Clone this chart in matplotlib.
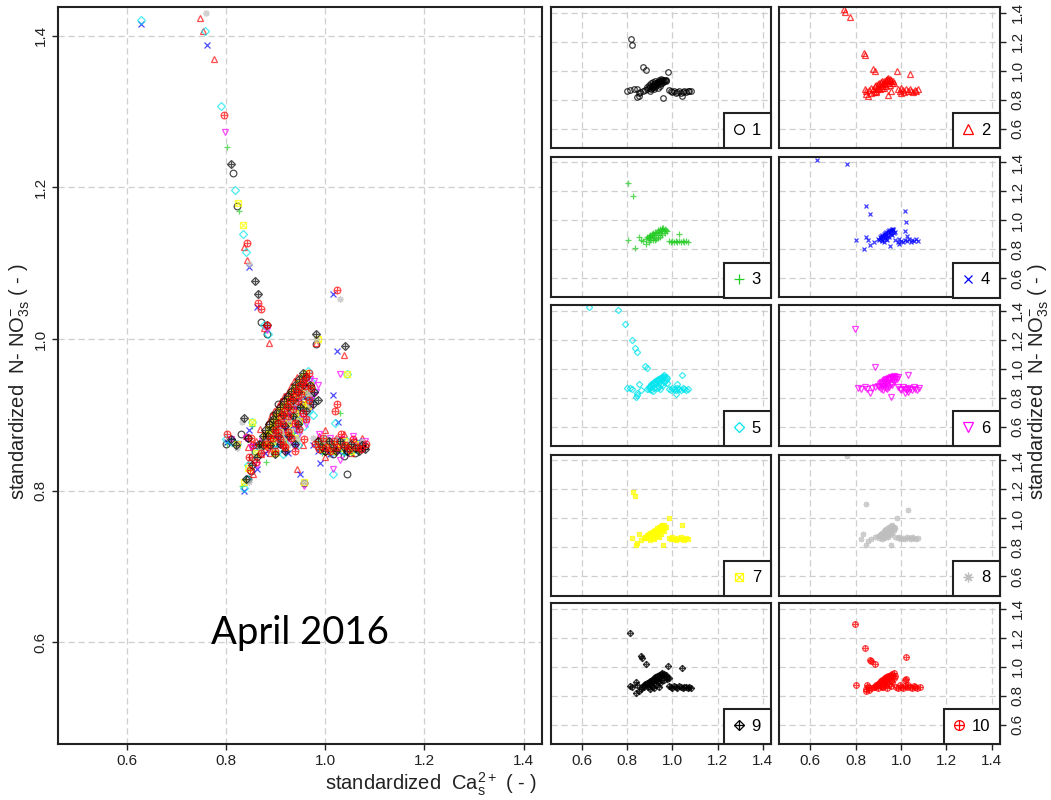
import matplotlib
matplotlib.use("Agg")
import matplotlib.pyplot as plt
from matplotlib.lines import Line2D
from matplotlib.legend_handler import HandlerTuple

plt.rcParams['font.family'] = ['Liberation Sans', 'DejaVu Sans']
plt.rcParams['mathtext.fontset'] = 'custom'
plt.rcParams['mathtext.rm'] = 'Liberation Sans'

# ---------------- data (standardized Ca, standardized N-NO3) ----------------
s1 = [(0.815,1.219),(0.822,1.175),(0.871,1.023),(0.884,1.007),(0.982,0.993),
      (0.800,0.861),(0.812,0.866),(0.830,0.875),(0.845,0.870),(0.852,0.845),(0.844,0.815),(0.850,0.826),(0.858,0.852),(0.870,0.862),
      (0.880,0.868),(0.889,0.874),(0.896,0.882),(0.902,0.890),(0.908,0.896),(0.915,0.901),(0.920,0.906),(0.925,0.912),(0.930,0.916),
      (0.935,0.920),(0.940,0.923),(0.945,0.926),(0.950,0.929),(0.955,0.932),(0.960,0.934),(0.966,0.936),(0.972,0.937),(0.912,0.886),
      (0.928,0.897),(0.943,0.907),(0.958,0.918),(0.900,0.860),(0.918,0.870),(0.936,0.880),(0.924,0.925),(0.905,0.915),
      (0.895,0.900),(0.905,0.870),(0.915,0.918),(0.925,0.885),(0.935,0.905),(0.945,0.892),(0.952,0.915),(0.962,0.925),
      (0.970,0.928),(0.888,0.888),(0.920,0.890),(0.940,0.935),(0.950,0.940),(0.910,0.878),
      (0.958,0.810),(0.993,0.858),(1.000,0.852),(1.008,0.861),(1.015,0.848),(1.022,0.855),(1.030,0.860),(1.038,0.846),(1.045,0.853),
      (1.052,0.858),(1.060,0.850),(1.068,0.856),(1.075,0.861),(1.081,0.859),(1.044,0.822),(0.985,0.866)]
s2 = [(0.749,1.423),(0.755,1.406),(0.776,1.370),(0.837,1.122),(0.843,1.104),(0.876,1.014),(0.887,0.995),(0.982,0.995),(1.038,0.979),
      (0.840,0.872),(0.845,0.858),(0.854,0.822),(0.848,0.840),(0.860,0.865),(0.868,0.882),(0.878,0.875),(0.885,0.890),(0.892,0.898),
      (0.898,0.905),(0.905,0.912),(0.912,0.918),(0.918,0.925),(0.925,0.930),(0.932,0.938),(0.938,0.945),(0.944,0.950),(0.950,0.940),
      (0.958,0.932),(0.965,0.925),(0.970,0.915),(0.900,0.880),(0.915,0.892),(0.930,0.905),(0.945,0.915),(0.890,0.860),(0.908,0.870),
      (0.925,0.878),(0.943,0.829),(0.955,0.860),
      (0.880,0.855),(0.895,0.875),(0.905,0.895),(0.915,0.905),(0.925,0.915),(0.935,0.925),(0.942,0.935),(0.950,0.925),
      (0.960,0.915),(0.918,0.882),(0.935,0.890),(0.950,0.898),(0.890,0.850),(0.870,0.848),
      (0.987,0.872),(0.994,0.858),(1.000,0.880),(1.008,0.865),(1.015,0.852),(1.022,0.870),(1.030,0.858),(1.038,0.875),(1.045,0.862),
      (1.052,0.850),(1.060,0.866),(1.068,0.858),(1.075,0.870),(1.000,0.845)]
s3 = [(0.803,1.254),(0.827,1.169),(0.803,0.861),(0.833,0.806),(0.852,0.885),(0.860,0.860),(0.870,0.855),(0.881,0.838),
      (0.881,0.870),(0.888,0.880),(0.895,0.888),(0.902,0.895),(0.908,0.902),(0.915,0.908),(0.922,0.915),(0.930,0.920),(0.938,0.928),
      (0.945,0.935),(0.952,0.942),(0.960,0.948),(0.966,0.940),(0.972,0.930),(0.978,0.922),(0.905,0.875),(0.920,0.885),(0.935,0.898),
      (0.950,0.910),(0.912,0.862),(0.928,0.872),(0.945,0.885),(0.895,0.850),
      (0.890,0.875),(0.900,0.882),(0.910,0.892),(0.918,0.900),(0.928,0.908),(0.940,0.915),(0.948,0.925),(0.956,0.932),
      (0.962,0.925),(0.925,0.862),(0.938,0.878),(0.952,0.895),(0.968,0.912),(0.900,0.865),
      (0.985,0.855),(0.993,0.850),(1.000,0.857),(1.008,0.848),(1.015,0.855),(1.022,0.850),(1.030,0.857),(1.038,0.848),(1.045,0.855),
      (1.052,0.850),(1.060,0.856),(1.067,0.852),(1.030,0.903)]
s4 = [(0.629,1.416),(0.763,1.388),(0.847,1.095),(0.862,1.042),(1.016,1.060),(1.024,0.984),(1.016,0.926),(1.026,0.891),
      (0.803,0.864),(0.847,0.880),(0.862,0.829),(0.837,0.800),(0.950,0.822),(0.855,0.860),(0.880,0.850),
      (0.900,0.870),(0.906,0.880),(0.912,0.888),(0.918,0.895),(0.924,0.902),(0.930,0.910),(0.936,0.916),(0.942,0.922),(0.948,0.928),
      (0.954,0.934),(0.960,0.938),(0.966,0.930),(0.972,0.920),(0.915,0.865),(0.930,0.878),(0.945,0.890),(0.958,0.905),(0.925,0.850),
      (0.940,0.862),
      (0.905,0.862),(0.912,0.875),(0.920,0.882),(0.928,0.892),(0.935,0.900),(0.942,0.908),(0.950,0.915),(0.958,0.925),
      (0.965,0.935),(0.935,0.868),(0.948,0.880),(0.962,0.895),(0.970,0.910),(0.918,0.855),
      (0.975,0.860),(0.985,0.852),(0.993,0.866),(1.000,0.856),(1.010,0.848),(1.018,0.862),(1.027,0.853),(1.035,0.866),(1.043,0.850),
      (1.050,0.860),(1.058,0.854),(1.066,0.866),(1.075,0.857),(0.990,0.837)]
s5 = [(0.630,1.421),(0.759,1.406),(0.790,1.307),(0.819,1.196),(0.834,1.139),(0.841,1.115),(0.877,1.018),(0.886,1.007),(1.044,0.954),
      (0.800,0.868),(0.812,0.864),(0.822,0.861),(0.852,0.891),(0.844,0.834),(0.837,0.804),(0.842,0.815),(0.860,0.850),
      (0.889,0.860),(0.895,0.872),(0.900,0.882),(0.906,0.890),(0.912,0.898),(0.918,0.905),(0.925,0.912),(0.932,0.920),(0.938,0.928),
      (0.945,0.935),(0.952,0.942),(0.958,0.950),(0.965,0.958),(0.972,0.945),(0.978,0.932),(0.905,0.855),(0.920,0.868),(0.935,0.880),
      (0.950,0.895),(0.965,0.905),(0.915,0.848),(0.945,0.860),
      (0.895,0.862),(0.902,0.875),(0.910,0.885),(0.918,0.892),(0.928,0.900),(0.938,0.912),(0.948,0.922),(0.955,0.932),
      (0.962,0.940),(0.930,0.865),(0.942,0.875),(0.958,0.885),(0.970,0.920),(0.975,0.900),
      (0.985,0.862),(0.993,0.855),(1.000,0.868),(1.008,0.858),(1.015,0.852),(1.022,0.865),(1.030,0.858),(1.038,0.852),(1.045,0.866),
      (1.052,0.860),(1.060,0.855),(1.067,0.862),(1.015,0.822),(1.020,0.890)]
s6 = [(0.799,1.273),(0.884,1.012),(1.031,0.954),(0.810,0.868),(0.825,0.862),(0.840,0.870),(0.850,0.858),(0.862,0.834),(0.872,0.865),
      (0.885,0.872),(0.900,0.880),(0.906,0.890),(0.912,0.898),(0.918,0.905),(0.924,0.912),(0.930,0.918),(0.936,0.925),(0.942,0.930),
      (0.948,0.935),(0.955,0.940),(0.962,0.945),(0.970,0.948),(0.978,0.945),(0.986,0.940),(0.910,0.862),(0.925,0.870),(0.940,0.882),
      (0.955,0.895),(0.970,0.910),(0.920,0.852),(0.940,0.858),(0.957,0.806),
      (0.905,0.870),(0.915,0.882),(0.922,0.892),(0.930,0.900),(0.938,0.910),(0.945,0.918),(0.952,0.928),(0.960,0.935),
      (0.968,0.938),(0.932,0.865),(0.948,0.875),(0.962,0.888),(0.975,0.925),(0.982,0.930),
      (0.987,0.875),(0.995,0.862),(1.002,0.855),(1.010,0.870),(1.018,0.858),(1.025,0.852),(1.032,0.868),(1.040,0.860),(1.048,0.855),
      (1.056,0.872),(1.064,0.860),(1.072,0.855),(1.080,0.866),(1.016,0.829),(1.030,0.840)]
s7 = [(0.825,1.180),(0.834,1.150),(0.985,1.000),(1.044,0.954),(0.822,0.861),(0.852,0.891),(0.837,0.811),(0.845,0.830),(0.860,0.850),
      (0.958,0.811),(0.874,0.860),(0.880,0.872),(0.888,0.882),(0.895,0.890),(0.902,0.898),(0.910,0.905),(0.918,0.912),(0.925,0.920),
      (0.932,0.928),(0.940,0.935),(0.948,0.942),(0.955,0.950),(0.962,0.955),(0.970,0.940),(0.895,0.865),(0.910,0.878),(0.925,0.890),
      (0.940,0.902),(0.955,0.915),(0.900,0.850),(0.920,0.858),(0.940,0.870),
      (0.882,0.862),(0.890,0.875),(0.900,0.885),(0.908,0.892),(0.918,0.900),(0.928,0.910),(0.936,0.920),(0.945,0.928),
      (0.952,0.935),(0.915,0.865),(0.930,0.878),(0.948,0.892),(0.962,0.930),(0.965,0.912),
      (0.985,0.862),(0.993,0.855),(1.000,0.866),(1.008,0.858),(1.015,0.852),(1.022,0.862),(1.030,0.856),(1.038,0.866),(1.045,0.858),
      (1.052,0.852),(1.060,0.862),(1.067,0.856)]
s8 = [(0.760,1.430),(0.847,1.099),(1.031,1.053),(0.982,1.000),(0.832,0.891),(0.822,0.857),(0.854,0.845),(0.847,0.811),(0.884,0.868),
      (0.957,0.811),(0.870,0.855),(0.900,0.875),(0.906,0.885),(0.912,0.892),(0.918,0.900),(0.924,0.908),(0.930,0.915),(0.936,0.922),
      (0.942,0.930),(0.948,0.938),(0.955,0.945),(0.962,0.950),(0.968,0.940),(0.972,0.930),(0.915,0.870),(0.930,0.880),(0.945,0.892),
      (0.958,0.905),(0.925,0.860),(0.945,0.868),
      (0.905,0.865),(0.912,0.878),(0.920,0.888),(0.928,0.895),(0.936,0.905),(0.944,0.915),(0.952,0.925),(0.960,0.935),
      (0.965,0.928),(0.935,0.870),(0.950,0.880),(0.962,0.895),(0.968,0.915),(0.918,0.858),
      (0.975,0.870),(0.985,0.860),(0.993,0.868),(1.000,0.855),(1.010,0.865),(1.018,0.858),(1.027,0.868),(1.035,0.860),(1.043,0.855),
      (1.050,0.866),(1.058,0.860),(1.066,0.856),(1.075,0.865)]
s9 = [(0.810,1.231),(0.859,1.076),(0.864,1.060),(0.884,1.018),(0.982,1.007),(1.041,0.991),(0.810,0.868),(0.837,0.896),(0.852,0.834),
      (0.820,0.860),(0.845,0.870),(0.862,0.845),(0.840,0.815),
      (0.867,0.862),(0.874,0.872),(0.880,0.880),(0.888,0.888),(0.895,0.895),(0.902,0.902),(0.910,0.910),(0.918,0.918),(0.925,0.925),
      (0.932,0.932),(0.940,0.940),(0.948,0.948),(0.955,0.955),(0.962,0.950),(0.970,0.940),(0.978,0.930),(0.985,0.920),(0.890,0.860),
      (0.905,0.872),(0.920,0.885),(0.935,0.898),(0.950,0.910),(0.900,0.848),(0.920,0.852),(0.940,0.862),
      (0.875,0.860),(0.885,0.872),(0.895,0.882),(0.905,0.890),(0.915,0.900),(0.925,0.910),(0.935,0.920),(0.945,0.930),
      (0.955,0.940),(0.910,0.862),(0.928,0.872),(0.945,0.888),(0.962,0.905),(0.975,0.915),
      (0.985,0.865),(0.993,0.858),(1.000,0.852),(1.008,0.866),(1.015,0.858),(1.022,0.852),(1.030,0.865),(1.038,0.858),(1.045,0.852),
      (1.052,0.862),(1.060,0.856),(1.068,0.852),(1.075,0.860),(1.081,0.855)]
s10 = [(0.796,1.296),(0.843,1.127),(0.865,1.048),(0.870,1.040),(0.884,1.018),(1.024,1.065),(1.024,0.915),(1.020,0.905),(0.803,0.875),
       (0.847,0.845),(0.850,0.870),(0.855,0.860),(0.848,0.828),(0.860,0.838),
       (0.870,0.850),(0.880,0.862),(0.890,0.870),(0.900,0.880),(0.906,0.890),(0.912,0.898),(0.918,0.905),(0.924,0.912),(0.930,0.918),
       (0.936,0.925),(0.942,0.932),(0.948,0.938),(0.955,0.945),(0.962,0.950),(0.968,0.955),(0.972,0.935),(0.910,0.868),(0.925,0.878),
       (0.940,0.890),(0.955,0.902),(0.957,0.868),(0.900,0.852),(0.920,0.858),(0.940,0.852),
       (0.885,0.858),(0.895,0.870),(0.905,0.878),(0.915,0.888),(0.925,0.898),(0.935,0.908),(0.945,0.918),(0.952,0.928),
       (0.960,0.938),(0.915,0.860),(0.932,0.870),(0.948,0.882),(0.962,0.895),(0.968,0.920),
       (0.979,0.862),(0.987,0.855),(0.995,0.870),(1.002,0.858),(1.010,0.852),(1.018,0.866),(1.025,0.858),(1.032,0.875),(1.040,0.860),
       (1.048,0.855),(1.056,0.868),(1.064,0.858),(1.072,0.855),(1.082,0.862)]

series = [s1, s2, s3, s4, s5, s6, s7, s8, s9, s10]
labels = ["1", "2", "3", "4", "5", "6", "7", "8", "9", "10"]
colors = ["#000000", "#FF0000", "#22CC22", "#0000FF", "#00E5EE",
          "#FF00FF", "#FFFF00", "#BEBEBE", "#000000", "#FF0000"]
ticks = [0.6, 0.8, 1.0, 1.2, 1.4]
tick_labels = ["0.6", "0.8", "1.0", "1.2", "1.4"]
XLIM = (0.462, 1.437)
YLIM = (0.466, 1.438)

# marker layers reproducing R pch 1..10
def layers(i):
    if i == 0:  return ['o']
    if i == 1:  return ['^']
    if i == 2:  return ['+']
    if i == 3:  return ['x']
    if i == 4:  return ['D']
    if i == 5:  return ['v']
    if i == 6:  return ['s', 'x']
    if i == 7:  return [(8, 2, 0)]
    if i == 8:  return ['D', '+']
    return ['o', '+']

def msize(m, ms):
    if m == 'D':
        return ms * 0.8
    if m == 's':
        return ms * 0.85
    if m == 'x':
        return ms * 0.85
    return ms

def draw(ax, i, ms, alpha=0.75):
    xs = [p[0] for p in series[i]]
    ys = [p[1] for p in series[i]]
    for m in layers(i):
        ax.plot(xs, ys, linestyle='none', marker=m, markersize=msize(m, ms),
                markerfacecolor='none', markeredgecolor=colors[i],
                markeredgewidth=0.9, alpha=alpha)

def style(ax):
    ax.set_xlim(*XLIM)
    ax.set_ylim(*YLIM)
    ax.set_xticks(ticks)
    ax.set_yticks(ticks)
    ax.grid(True, color='#cfcfcf', linestyle=(0, (5, 3)), linewidth=0.9)
    ax.set_axisbelow(True)
    for sp in ax.spines.values():
        sp.set_linewidth(1.5)
        sp.set_color('#222222')
    ax.tick_params(direction='out', length=4, width=1, colors='#222222',
                   labelsize=11, labelcolor='#222222')

fig = plt.figure(figsize=(10.51, 8.0), dpi=100)
W, H = 1051.0, 800.0

# big panel
big = fig.add_axes([58 / W, 56 / H, (542 - 58) / W, (744 - 7) / H])
style(big)
big.set_xticklabels(tick_labels)
big.set_yticklabels(tick_labels, rotation=90, va='center')
for i in range(10):
    draw(big, i, 4.8, alpha=0.7)
fig.text(300 / W, 1 - 633 / H, "April 2016", ha='center', va='center',
         fontsize=27.5, family='Lato', color='black')

# small panels
col_left = [551, 779]
col_w = [220, 221]
row_bottom = [148, 297.5, 446, 595.5, 744]
ph = 141
for i in range(10):
    r, c = divmod(i, 2)
    ax = fig.add_axes([col_left[c] / W, (H - row_bottom[r]) / H, col_w[c] / W, ph / H])
    style(ax)
    draw(ax, i, 4.0)
    if c == 1:
        ax.yaxis.tick_right()
        ax.set_yticklabels(tick_labels, rotation=90, va='center')
    else:
        ax.tick_params(axis='y', left=False, labelleft=False)
    if r == 4:
        ax.set_xticklabels(tick_labels)
    else:
        ax.tick_params(axis='x', bottom=False, labelbottom=False)
    handles = tuple(Line2D([], [], linestyle='none', marker=m,
                           markersize=msize(m, 7.0),
                           markerfacecolor='none', markeredgecolor=colors[i],
                           markeredgewidth=0.9)
                    for m in layers(i))
    leg = ax.legend([handles], [labels[i]], loc='lower right',
                    borderaxespad=0, fancybox=False, framealpha=1,
                    edgecolor='#222222', fontsize=12, handlelength=0.6,
                    handletextpad=0.45, borderpad=0.6,
                    handler_map={tuple: HandlerTuple(ndivide=1, pad=0)})
    leg.get_frame().set_linewidth(1.5)

ylab = r"standardized  N- NO$_{\mathregular{3s}}^{\mathregular{-}}$ ( - )"
fig.text(20 / W, 1 - 382 / H, ylab, rotation=90, ha='center', va='center',
         fontsize=14.5, color='#222222')
fig.text(1039 / W, 1 - 382 / H, ylab, rotation=90, ha='center', va='center',
         fontsize=14.5, color='#222222')
fig.text(431 / W, 1 - 784 / H,
         r"standardized  Ca$_{\mathregular{s}}^{\mathregular{2+}}$ ( - )",
         ha='center', va='center', fontsize=14.5, color='#222222')

fig.savefig("out.png", dpi=100, facecolor='white')
